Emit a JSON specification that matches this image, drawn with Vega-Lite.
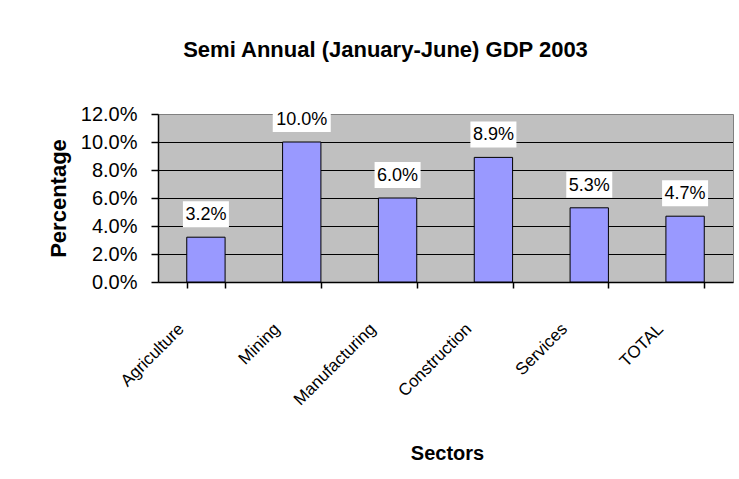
{
  "$schema": "https://vega.github.io/schema/vega-lite/v6.json",
  "width": 575,
  "height": 168,
  "autosize": {"type": "none"},
  "padding": {"left": 158, "top": 114, "right": 6, "bottom": 197},
  "background": "white",
  "title": {
    "text": "Semi Annual (January-June) GDP 2003",
    "font": "Liberation Sans",
    "fontSize": 22,
    "fontWeight": "bold",
    "color": "black",
    "anchor": "middle",
    "dx": -60,
    "baseline": "alphabetic",
    "offset": 25
  },
  "config": {
    "view": {"fill": "#c0c0c0", "stroke": "#808080", "strokeWidth": 1},
    "axisX": {
      "titleFont": "Liberation Sans",
      "titleFontSize": 20,
      "titleFontWeight": "bold",
      "titleColor": "black",
      "titleX": 289,
      "titleY": 177,
      "titleAlign": "center",
      "titleBaseline": "alphabetic",
      "labelAngle": -45,
      "labelAlign": "right",
      "labelBaseline": "middle",
      "labelOffset": -25,
      "labelPadding": 38,
      "labelOverlap": false,
      "labelFont": "Liberation Sans",
      "labelFontSize": 17,
      "labelColor": "black",
      "tickBand": "extent",
      "tickSize": 6,
      "tickWidth": 1.5,
      "tickColor": "black",
      "domainColor": "black",
      "domainWidth": 1.5,
      "grid": false
    },
    "axisY": {
      "titleFont": "Liberation Sans",
      "titleFontSize": 22,
      "titleFontWeight": "bold",
      "titleColor": "black",
      "titleAngle": -90,
      "titleX": -93,
      "titleY": 84,
      "titleAlign": "center",
      "titleBaseline": "alphabetic",
      "labelOverlap": false,
      "labelFont": "Liberation Sans",
      "labelFontSize": 20,
      "labelColor": "black",
      "labelPadding": 14,
      "tickSize": 7,
      "tickWidth": 1.5,
      "tickColor": "black",
      "domainColor": "black",
      "domainWidth": 1.5,
      "grid": false
    }
  },
  "data": {
    "values": [
      {"sector": "Agriculture", "growth": 0.032},
      {"sector": "Mining", "growth": 0.100},
      {"sector": "Manufacturing", "growth": 0.060},
      {"sector": "Construction", "growth": 0.089},
      {"sector": "Services", "growth": 0.053},
      {"sector": "TOTAL", "growth": 0.047}
    ]
  },
  "layer": [
    {
      "data": {"values": [{"gridline": 0.02}, {"gridline": 0.04}, {"gridline": 0.06}, {"gridline": 0.08}, {"gridline": 0.10}]},
      "mark": {"type": "rule", "color": "black", "strokeWidth": 1, "yOffset": 0.5},
      "encoding": {
        "y": {"field": "gridline", "type": "quantitative", "scale": {"domain": [0, 0.12], "nice": false}, "axis": {"title": "Percentage", "values": [0, 0.02, 0.04, 0.06, 0.08, 0.1, 0.12], "format": ".1%"}}
      }
    },
    {
      "mark": {"type": "bar", "fill": "#9999ff", "stroke": "black", "strokeWidth": 1},
      "encoding": {
        "x": {"field": "sector", "type": "nominal", "sort": null, "scale": {"paddingInner": 0.6, "paddingOuter": 0.3}, "axis": {"title": "Sectors"}},
        "y": {"field": "growth", "type": "quantitative", "scale": {"domain": [0, 0.12], "nice": false}, "axis": {"title": "Percentage", "values": [0, 0.02, 0.04, 0.06, 0.08, 0.1, 0.12], "format": ".1%"}}
      }
    },
    {
      "transform": [{"filter": "datum.growth < 0.1"}],
      "mark": {"type": "tick", "orient": "horizontal", "color": "white", "opacity": 1, "size": 46, "thickness": 26, "yOffset": -23},
      "encoding": {
        "x": {"field": "sector", "type": "nominal", "sort": null, "axis": {"title": "Sectors"}},
        "y": {"field": "growth", "type": "quantitative", "axis": {"title": "Percentage", "values": [0, 0.02, 0.04, 0.06, 0.08, 0.1, 0.12], "format": ".1%"}}
      }
    },
    {
      "transform": [{"filter": "datum.growth >= 0.1"}],
      "mark": {"type": "tick", "orient": "horizontal", "color": "white", "opacity": 1, "size": 58, "thickness": 26, "yOffset": -23},
      "encoding": {
        "x": {"field": "sector", "type": "nominal", "sort": null, "axis": {"title": "Sectors"}},
        "y": {"field": "growth", "type": "quantitative", "axis": {"title": "Percentage", "values": [0, 0.02, 0.04, 0.06, 0.08, 0.1, 0.12], "format": ".1%"}}
      }
    },
    {
      "mark": {"type": "text", "font": "Liberation Sans", "fontSize": 18, "color": "black", "baseline": "middle", "yOffset": -22},
      "encoding": {
        "x": {"field": "sector", "type": "nominal", "sort": null, "axis": {"title": "Sectors"}},
        "y": {"field": "growth", "type": "quantitative", "axis": {"title": "Percentage", "values": [0, 0.02, 0.04, 0.06, 0.08, 0.1, 0.12], "format": ".1%"}},
        "text": {"field": "growth", "type": "quantitative", "format": ".1%"}
      }
    }
  ]
}
